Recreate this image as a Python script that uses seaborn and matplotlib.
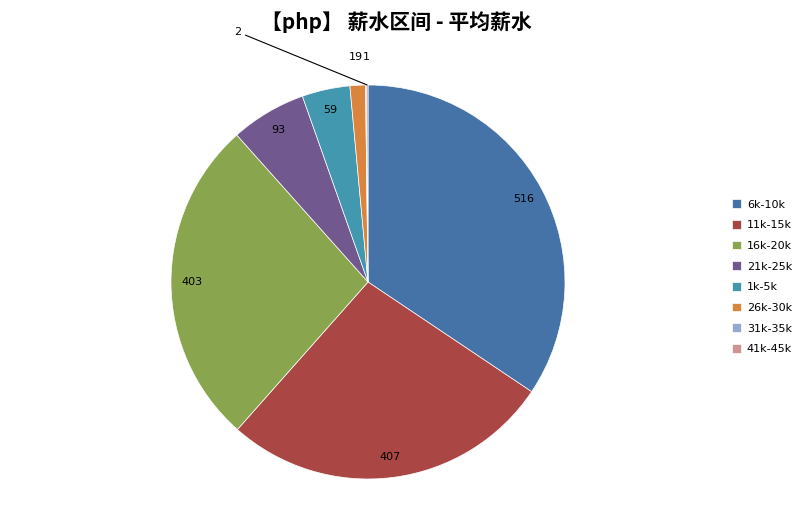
import numpy as np
import matplotlib
matplotlib.use("Agg")
import matplotlib.pyplot as plt
import seaborn as sns

categories = ["6k-10k", "11k-15k", "16k-20k", "21k-25k", "1k-5k", "26k-30k", "31k-35k", "41k-45k"]
values = [516, 407, 403, 93, 59, 19, 1, 2]
colors_hex = ["#4572A7", "#AA4643", "#89A54E", "#71588F", "#4198AF", "#DB843D", "#93A9CF", "#D19392"]
title = "【php】 薪水区间 - 平均薪水"

sns.set_style("white")
plt.rcParams['font.family'] = ['Noto Sans CJK SC', 'DejaVu Sans']
plt.rcParams['text.color'] = 'black'
palette = sns.color_palette(colors_hex)

W, H = 809, 521
fig = plt.figure(figsize=(W / 100, H / 100), dpi=100)
cx, cy, r = 368, 239, 197
ax = fig.add_axes([(cx - r) / W, (cy - r) / H, 2 * r / W, 2 * r / H])

wedges, _ = ax.pie(values, colors=palette, startangle=90, counterclock=False,
                   radius=1, wedgeprops=dict(edgecolor="white", linewidth=0.5))
ax.set_xlim(-1, 1)
ax.set_ylim(-1, 1)
ax.set_aspect("equal")
ax.axis("off")

for w, v in zip(wedges, values):
    ang = np.deg2rad((w.theta1 + w.theta2) / 2)
    x, y = np.cos(ang), np.sin(ang)
    if v >= 50:
        ax.text(0.895 * x, 0.895 * y, str(v), ha="center", va="center", fontsize=8,
                family="DejaVu Sans", color="black")
    elif v == 2:
        ax.annotate(str(v), xy=(x, y), xytext=(-0.645, 1.27), textcoords="data",
                    ha="right", va="center", fontsize=8, family="DejaVu Sans", color="black",
                    arrowprops=dict(arrowstyle="-", color="black", lw=0.8,
                                    shrinkA=1, shrinkB=0),
                    annotation_clip=False)
    elif v == 19:
        ax.text(x - 0.01, 1.14, str(v), ha="center", va="center", fontsize=8,
                family="DejaVu Sans", color="black", clip_on=False)
    else:
        ax.text(x + 0.0, 1.14, str(v), ha="center", va="center", fontsize=8,
                family="DejaVu Sans", color="black", clip_on=False)

fig.text(396 / W, 1 - 22 / H, title, ha="center", va="center", fontsize=15,
         fontweight="bold", color="black", family=['Noto Sans CJK SC', 'DejaVu Sans'])

leg = fig.legend(wedges, categories, loc="upper left", bbox_to_anchor=(728 / W, 1 - 195 / H),
                 frameon=False, handlelength=0.8, handleheight=0.8,
                 handletextpad=0.5, labelspacing=0.95, borderaxespad=0,
                 prop={"family": "DejaVu Sans", "size": 8})
for t in leg.get_texts():
    t.set_color("black")

fig.savefig("out.png", dpi=100, facecolor="white")
